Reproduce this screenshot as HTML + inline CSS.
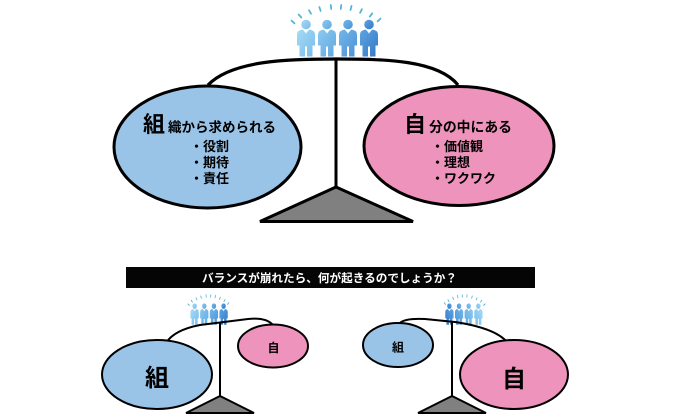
<!DOCTYPE html>
<html><head><meta charset="utf-8">
<style>
html,body{margin:0;padding:0;background:#fff;width:679px;height:419px;overflow:hidden}
svg{display:block}
text{font-family:"Liberation Sans","Noto Sans CJK JP",sans-serif;font-weight:bold}
</style></head>
<body>
<svg width="679" height="419" viewBox="0 0 679 419" xmlns="http://www.w3.org/2000/svg">
<defs>
<linearGradient id="g1" x1="0" y1="0" x2="1" y2="1"><stop offset="0" stop-color="#a6d9f5"/><stop offset="1" stop-color="#78bde9"/></linearGradient>
<linearGradient id="g2" x1="0" y1="0" x2="1" y2="1"><stop offset="0" stop-color="#8ccaf0"/><stop offset="1" stop-color="#5fa8e0"/></linearGradient>
<linearGradient id="g3" x1="0" y1="0" x2="1" y2="1"><stop offset="0" stop-color="#74b6ea"/><stop offset="1" stop-color="#4c92d6"/></linearGradient>
<linearGradient id="g4" x1="0" y1="0" x2="1" y2="1"><stop offset="0" stop-color="#5ea4e2"/><stop offset="1" stop-color="#3479c6"/></linearGradient>
<g id="fig">
  <circle cx="0" cy="0" r="4.8"/>
  <path d="M-9,10 Q-9,6 -3.5,5 L0,8 L3.5,5 Q9,6 9,10 L9,21 L6.5,21 L6.5,32 L1,32 L1,22 L-1,22 L-1,32 L-6.5,32 L-6.5,21 L-9,21 Z"/>
</g>
<g id="crowd">
  <g stroke="#55b6d6" stroke-width="1.8" stroke-linecap="round">
    <line x1="291.5" y1="20.7" x2="294.5" y2="23.3"/>
    <line x1="298.7" y1="14.5" x2="301.3" y2="17.5"/>
    <line x1="309" y1="10.3" x2="311" y2="13.7"/>
    <line x1="319.4" y1="7.1" x2="320.6" y2="10.9"/>
    <line x1="330.8" y1="5" x2="331.2" y2="9"/>
    <line x1="341.2" y1="5" x2="340.8" y2="9"/>
    <line x1="351.5" y1="6" x2="350.5" y2="10"/>
    <line x1="361.9" y1="9.2" x2="360.1" y2="12.8"/>
    <line x1="372.2" y1="13.4" x2="369.8" y2="16.6"/>
    <line x1="380.4" y1="18.6" x2="377.6" y2="21.4"/>
  </g>
  <use href="#fig" x="306" y="24.5" fill="url(#g1)"/>
  <use href="#fig" x="327" y="24.5" fill="url(#g2)"/>
  <use href="#fig" x="348" y="24.5" fill="url(#g3)"/>
  <use href="#fig" x="369" y="24.5" fill="url(#g4)"/>
  <g fill="none" stroke="#ffffff" stroke-width="0.8" opacity="0.8">
    <path d="M303.5,29.5 L306,33 L308.5,29.5"/>
    <path d="M324.5,29.5 L327,33 L329.5,29.5"/>
    <path d="M345.5,29.5 L348,33 L350.5,29.5"/>
    <path d="M366.5,29.5 L369,33 L371.5,29.5"/>
  </g>
</g>
</defs>

<!-- TOP SCALE -->
<use href="#crowd"/>
<path d="M208,85 C232,60 290,59 336,59 C385,59 438,60 458,85" fill="none" stroke="#000" stroke-width="3.2"/>
<line x1="336" y1="59" x2="336" y2="188" stroke="#000" stroke-width="3"/>
<ellipse cx="207.5" cy="147" rx="93.5" ry="61" fill="#99c4e8" stroke="#000" stroke-width="3"/>
<ellipse cx="459" cy="146" rx="95" ry="59.5" fill="#ee93bb" stroke="#000" stroke-width="3"/>
<polygon points="336,187 260,221.5 413,221.5" fill="#808080" stroke="#000" stroke-width="3" stroke-linejoin="miter"/>

<text x="143" y="132" font-size="22">組</text>
<text x="168" y="132" font-size="13.5" textLength="108" lengthAdjust="spacingAndGlyphs">織から求められる</text>
<text x="190" y="151" font-size="13">・役割</text>
<text x="190" y="167" font-size="13">・期待</text>
<text x="190" y="183" font-size="13">・責任</text>

<text x="404" y="132" font-size="22">自</text>
<text x="429" y="132" font-size="14" textLength="83" lengthAdjust="spacingAndGlyphs">分の中にある</text>
<text x="431" y="151" font-size="13">・価値観</text>
<text x="431" y="167" font-size="13">・理想</text>
<text x="431" y="183" font-size="13">・ワクワク</text>

<!-- BANNER -->
<rect x="126" y="267" width="409" height="21" fill="#050505"/>
<text x="202" y="282" font-size="11.6" fill="#ffffff" textLength="255" lengthAdjust="spacingAndGlyphs">バランスが崩れたら、何が起きるのでしょうか？</text>

<!-- BOTTOM LEFT SCALE -->
<use href="#crowd" transform="translate(53.84,291.94) scale(0.46,0.58)"/>
<path d="M166,343 Q174,330 200,325 L248,319 Q266,317 273,325" fill="none" stroke="#000" stroke-width="2"/>
<line x1="220" y1="322" x2="220" y2="397" stroke="#000" stroke-width="2"/>
<ellipse cx="157" cy="374.5" rx="55" ry="34.5" fill="#99c4e8" stroke="#000" stroke-width="2"/>
<ellipse cx="273" cy="346" rx="35" ry="21.5" fill="#ee93bb" stroke="#000" stroke-width="2"/>
<polygon points="220,396 186,413 254,413" fill="#808080" stroke="#000" stroke-width="2"/>
<text x="157" y="386" font-size="24" text-anchor="middle">組</text>
<text x="273.5" y="352" font-size="12" text-anchor="middle">自</text>

<!-- BOTTOM RIGHT SCALE -->
<use href="#crowd" transform="translate(619.16,291.94) scale(-0.46,0.58)"/>
<path d="M400,323 Q405,318 425,319 L455,322 Q495,328 507,342" fill="none" stroke="#000" stroke-width="2"/>
<line x1="452" y1="321" x2="452" y2="397" stroke="#000" stroke-width="2"/>
<ellipse cx="398" cy="345" rx="35" ry="22" fill="#99c4e8" stroke="#000" stroke-width="2"/>
<ellipse cx="514" cy="374.5" rx="54" ry="34.5" fill="#ee93bb" stroke="#000" stroke-width="2"/>
<polygon points="452,396 418,413 486,413" fill="#808080" stroke="#000" stroke-width="2"/>
<text x="398" y="351.5" font-size="12" text-anchor="middle">組</text>
<text x="514" y="387" font-size="24" text-anchor="middle">自</text>
</svg>
</body></html>
